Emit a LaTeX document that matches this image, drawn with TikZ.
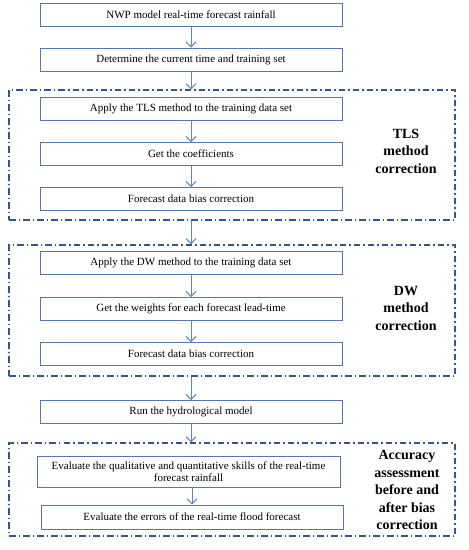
\documentclass[tikz,border=0pt]{standalone}
\usepackage{fontspec}
\setmainfont{Liberation Serif}
\usetikzlibrary{positioning, arrows.meta}
\definecolor{boxblue}{HTML}{5478AA}
\definecolor{flowblue}{HTML}{5B86C2}
\definecolor{groupblue}{HTML}{34568A}

\begin{document}
\begin{tikzpicture}[x=1pt, y=-1pt,
	stepbox/.style={draw=boxblue, line width=1pt, minimum width=302pt, minimum height=23pt,
		inner sep=2pt, align=center, font=\fontsize{11}{12.5}\selectfont},
	groupbox/.style={draw=groupblue, line width=1.2pt, minimum width=446pt,
		dash pattern=on 6.5pt off 3pt on 1.5pt off 3pt},
	grouplabel/.style={align=center, font=\fontsize{14}{17.5}\selectfont\bfseries},
	flow/.style={draw=flowblue, line width=1pt, -{Straight Barb[length=5pt, width=10pt]}},
	node distance=21pt]
\useasboundingbox (0,0) rectangle (469,550);

% input and training set
\node[stepbox] (nwp) at (191,14.5) {NWP model real-time forecast rainfall};
\node[stepbox, below=of nwp] (train) {Determine the current time and training set};

% TLS correction
\node[groupbox, minimum height=130pt] (tls) at (232,155) {};
\node[stepbox] (tlsfit) at (191,109) {Apply the TLS method to the training data set};
\node[stepbox, below=of tlsfit] (coef) {Get the coefficients};
\node[stepbox, below=of coef] (tlscorr) {Forecast data bias correction};
\node[grouplabel] (tlslab) at (406,151) {TLS\\method\\correction};

% DW correction
\node[groupbox, minimum height=131pt] (dw) at (232,310.5) {};
\node[stepbox] (dwfit) at (191,263) {Apply the DW method to the training data set};
\node[stepbox, below=22pt of dwfit] (weights) {Get the weights for each forecast lead-time};
\node[stepbox, below=of weights] (dwcorr) {Forecast data bias correction};
\node[grouplabel] (dwlab) at (406,308) {DW\\method\\correction};

\node[stepbox] (hydro) at (191,412) {Run the hydrological model};

% accuracy assessment
\node[groupbox, minimum height=93pt] (acc) at (232,489.5) {};
\node[stepbox, minimum width=303pt, minimum height=31pt] (skill) at (188.5,471.5)
	{Evaluate the qualitative and quantitative skills of the real-time\\forecast rainfall};
\node[stepbox, minimum height=24pt] (flood) at (192,517) {Evaluate the errors of the real-time flood forecast};
\node[grouplabel] (acclab) at (407,490) {Accuracy\\assessment\\before and\\after bias\\correction};

\draw[flow] (nwp) -- (train);
\draw[flow] (train) -- (train |- tls.north);
\draw[flow] (tlsfit) -- (coef);
\draw[flow] (coef) -- (tlscorr);
\draw[flow] (tlscorr |- tls.south) -- (tlscorr |- dw.north);
\draw[flow] (dwfit) -- (weights);
\draw[flow] (weights) -- (dwcorr);
\draw[flow] (dwcorr |- dw.south) -- (hydro);
\draw[flow] (hydro) -- (hydro |- acc.north);
\draw[flow] (skill.south -| flood) -- (flood);
\end{tikzpicture}
\end{document}
